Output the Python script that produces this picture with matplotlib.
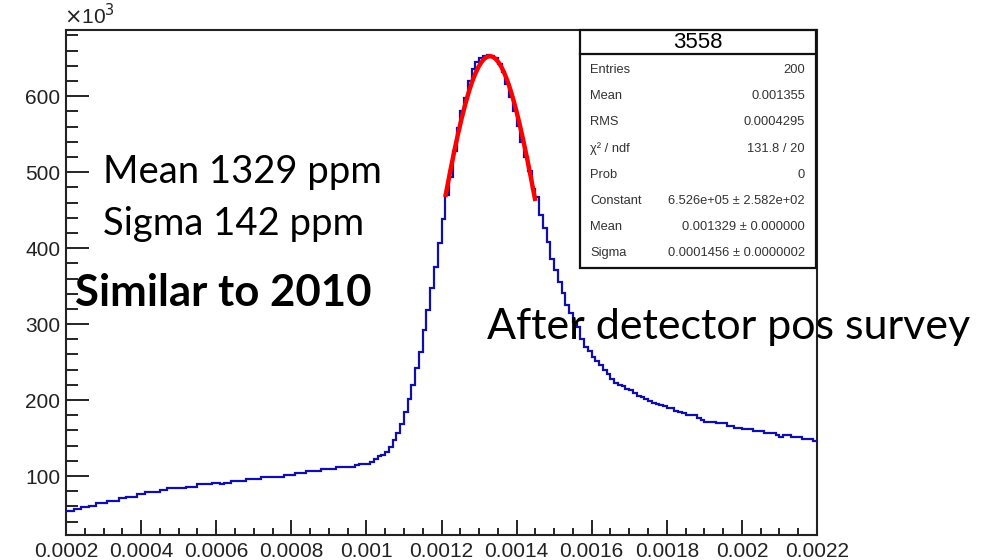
import numpy as np
import matplotlib
matplotlib.use("Agg")
import matplotlib.pyplot as plt
from matplotlib.ticker import MultipleLocator, FuncFormatter
from matplotlib.patches import Rectangle

# Histogram: 200 bins between 0.0002 and 0.0022, contents in units of 10^3
x_min, x_max, n_bins = 0.0002, 0.0022, 200
counts_k = [
    54, 54, 56, 56, 59, 59, 61, 61, 65, 65,
    65, 67.5, 67.5, 67.5, 70.5, 70.5, 73, 73, 73, 76,
    76, 78.5, 78.5, 78.5, 78.5, 81.5, 81.5, 84, 84, 84,
    84, 84, 86, 86, 86, 89, 89, 89, 89, 91,
    91, 89, 91.5, 91.5, 94, 94, 94, 94, 96.5, 96.5,
    96.5, 96.5, 99, 99, 99, 99, 99, 99, 102, 102,
    102, 104.5, 104.5, 104.5, 106.5, 106.5, 106.5, 106.5, 109, 109,
    109, 109, 111.5, 111.5, 111.5, 111.5, 111.5, 114, 116.5, 116.5,
    116.5, 119, 123, 126, 128, 131, 138.6, 147.4, 157, 169,
    184.6, 201, 220, 242.5, 263.6, 292, 318, 347, 375, 407,
    438, 470, 494, 528, 558, 580, 598, 620, 636, 645,
    650, 653, 654, 653, 650, 642, 632, 616, 599, 580,
    561, 540, 520, 502, 478, 467, 443, 426, 408, 386,
    371, 356, 341, 325, 314, 303, 296, 281, 270, 264,
    257, 252, 246, 240, 234, 228, 222, 220, 218, 215,
    213, 209, 206, 204, 201, 199, 196, 195, 193, 192,
    190, 189, 186, 184.6, 182.5, 180.3, 180.3, 180.3, 177, 173.7,
    171.5, 171.5, 171.5, 169.3, 169.3, 169.3, 166, 166, 163.6, 163.6,
    161.4, 161.4, 161.4, 159.6, 159.6, 159.6, 157, 157, 157, 154,
    151, 154, 154, 151.7, 151.7, 151.7, 148.7, 148.7, 148.7, 146.5,
]

# Gaussian fit parameters and range
fit_constant = 6.526e+05
fit_mean = 0.001329
fit_sigma = 0.0001456
fit_range = (0.00121, 0.00145)

stats_title = "3558"
stats_rows = [
    ("Entries", "200"),
    ("Mean", "0.001355"),
    ("RMS", "0.0004295"),
    ("\u03c7\u00b2 / ndf", "131.8 / 20"),
    ("Prob", "0"),
    ("Constant", "6.526e+05 \u00b1 2.582e+02"),
    ("Mean", "0.001329 \u00b1 0.000000"),
    ("Sigma", "0.0001456 \u00b1 0.0000002"),
]

W, H = 1006, 560
fig = plt.figure(figsize=(W / 100, H / 100), dpi=100)
fig.patch.set_facecolor("white")

def fx(px):
    return px / W

def fy(py):
    return 1 - py / H

ax = fig.add_axes([fx(66), fy(535), fx(817) - fx(66), fy(29.5) - fy(535)])

edges = np.linspace(x_min, x_max, n_bins + 1)
ax.stairs(counts_k, edges, baseline=None, color="#1010a8", lw=1.6, zorder=3)

xf = np.linspace(fit_range[0], fit_range[1], 300)
yf = fit_constant * np.exp(-0.5 * ((xf - fit_mean) / fit_sigma) ** 2) / 1e3
ax.plot(xf, yf, color="#ff0000", lw=3.2, zorder=4, solid_capstyle="butt")

ax.set_xlim(x_min, x_max)
ax.set_ylim(22.4, 687.8)

ax.xaxis.set_major_locator(MultipleLocator(0.0002))
ax.xaxis.set_minor_locator(MultipleLocator(0.00005))
ax.yaxis.set_major_locator(MultipleLocator(100))
ax.yaxis.set_minor_locator(MultipleLocator(20))
ax.xaxis.set_major_formatter(FuncFormatter(lambda v, p: f"{v:g}"))
ax.yaxis.set_major_formatter(FuncFormatter(lambda v, p: f"{v:g}"))
ax.tick_params(axis="x", which="major", direction="in", length=10.5, width=1.2, pad=5, top=False)
ax.tick_params(axis="x", which="minor", direction="in", length=5, width=1.2, top=False)
ax.tick_params(axis="y", which="major", direction="in", length=16.5, width=1.2, pad=4, right=False)
ax.tick_params(axis="y", which="minor", direction="in", length=8.5, width=1.2, right=False)
for lab in ax.get_xticklabels() + ax.get_yticklabels():
    lab.set_fontfamily("Liberation Sans")
    lab.set_fontsize(15)
    lab.set_color("#222222")
for s in ax.spines.values():
    s.set_linewidth(1.5)
    s.set_color("#222222")

fig.text(fx(64), fy(16), r"$\times$10$^{3}$", fontsize=15, family="Liberation Sans",
         color="#222222", ha="left", va="center")

# Statistics box
bx0, bx1, by0, by1, bt = 580, 816, 29.5, 268, 53.5
box = Rectangle((fx(bx0), fy(by1)), fx(bx1) - fx(bx0), fy(by0) - fy(by1),
                transform=fig.transFigure, facecolor="white", edgecolor="#111111",
                lw=1.6, zorder=5)
fig.add_artist(box)
fig.add_artist(plt.Line2D([fx(bx0), fx(bx1)], [fy(bt), fy(bt)], transform=fig.transFigure,
                          color="#111111", lw=1.6, zorder=6))
fig.text(fx((bx0 + bx1) / 2), fy((by0 + bt) / 2 + 0.5), stats_title, fontsize=16,
         family="Liberation Sans", ha="center", va="center", zorder=7)
row_y0, row_dy = 70, 26.2
for i, (name, val) in enumerate(stats_rows):
    yy = fy(row_y0 + i * row_dy)
    fig.text(fx(590), yy, name, fontsize=9.3, family="Liberation Sans", ha="left",
             va="center", color="#333333", zorder=7)
    fig.text(fx(805), yy, val, fontsize=9.3, family="Liberation Sans", ha="right",
             va="center", color="#333333", zorder=7)

# Annotations
note_font = "Lato"
fig.text(fx(103), fy(172), "Mean 1329 ppm", fontsize=27.5, family=note_font,
         ha="left", va="center", color="black", zorder=8)
fig.text(fx(103), fy(224), "Sigma 142 ppm", fontsize=27.5, family=note_font,
         ha="left", va="center", color="black", zorder=8)
fig.text(fx(75), fy(293), "Similar to 2010", fontsize=31.5, family=note_font,
         fontweight="bold", ha="left", va="center", color="black", zorder=8)
fig.text(fx(487), fy(327), "After detector pos survey", fontsize=31, family=note_font,
         ha="left", va="center", color="black", zorder=8)

fig.savefig("out.png", dpi=100, facecolor="white")
